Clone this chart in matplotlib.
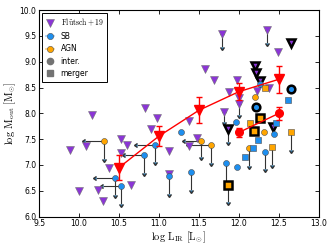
import matplotlib
matplotlib.use("Agg")
import matplotlib.pyplot as plt
from matplotlib.lines import Line2D
import numpy as np

plt.rcParams['mathtext.fontset'] = 'cm'
plt.rcParams['font.family'] = ['DejaVu Sans']

PURPLE = '#8B35D6'
BLUE = '#1E8FEF'
ORANGE = '#FFA500'

# Fluetsch+19 triangles
fl_x = [9.88, 10.09, 10.00, 10.24, 10.30, 10.38, 10.53, 10.60, 10.52, 10.65, 10.90,
        10.16, 10.82, 10.98, 11.13, 11.12, 11.38, 11.37, 11.48, 11.58, 11.69, 11.98,
        11.88, 12.00, 12.23, 12.38, 12.49]
fl_y = [7.30, 7.37, 6.50, 6.52, 6.31, 6.94, 7.50, 7.39, 7.23, 6.62, 7.70,
        7.96, 8.10, 7.92, 7.27, 6.83, 7.85, 7.36, 7.52, 8.86, 8.65, 8.65,
        8.42, 8.29, 8.44, 8.50, 9.18]
# Fluetsch+19 upper limits
flul_x = [11.79, 12.35, 11.81, 12.00]
flul_y = [9.53, 9.61, 8.03, 8.18]
flul_d = [0.24, 0.25, 0.20, 0.22]
# Fluetsch+19 with thick black edge
flb_x = [11.87, 12.20, 12.22, 12.27, 12.65, 12.43]
flb_y = [7.69, 8.92, 8.79, 8.63, 9.36, 7.74]
flb_d = [0.25, 0, 0, 0, 0, 0]

# binned medians
bin_x = [10.5, 11.0, 11.5, 12.0, 12.5]
bin_y = [6.95, 7.56, 8.06, 8.42, 8.66]
bin_e = [0.24, 0.19, 0.25, 0.17, 0.26]
bin2_x = [12.0, 12.5]
bin2_y = [7.63, 8.00]
bin2_e = [0.08, 0.12]

# SB circles
sb_x = [10.95, 10.81, 10.45, 10.53, 11.28, 11.12, 11.40, 11.84, 11.98, 11.97, 12.33, 12.44, 12.27]
sb_y = [7.39, 7.20, 6.75, 6.60, 7.63, 6.78, 6.86, 7.04, 6.96, 7.84, 7.26, 7.60, 8.57]
sb_dx = [0.22, 0.24, 0.24, 0.23, 0, 0, 0, 0, 0, 0, 0, 0, 0]
sb_dy = [0.34, 0.36, 0.33, 0.35, 0, 0.34, 0.34, 0.35, 0, 0, 0.33, 0, 0]
# SB interacting (thick edge)
sbi_x = [12.21, 12.65]
sbi_y = [8.13, 8.47]

# AGN circles
agn_x = [10.31, 11.53, 11.65, 12.13, 12.31, 12.20]
agn_y = [7.46, 7.47, 7.38, 7.33, 7.63, 8.32]
agn_dx = [0.24, 0.21, 0.27, 0, 0, 0]
agn_dy = [0.34, 0.32, 0.34, 0.34, 0, 0]

# squares
sqo_x = [12.14, 12.33, 12.42, 12.65]
sqo_y = [7.82, 8.50, 7.34, 7.63]
sqo_dy = [0, 0, 0.34, 0.34]
sqom_x = [12.27, 12.19, 11.87]
sqom_y = [7.92, 7.66, 6.62]
sqom_dy = [0, 0, 0.34]
sqb_x = [12.08, 12.18, 12.24, 12.46, 12.62]
sqb_y = [7.15, 7.33, 7.49, 7.81, 8.25]

fig = plt.figure(figsize=(3.32, 2.47), dpi=100)
ax = fig.add_axes([0.118, 0.123, 0.842, 0.836])

def limits(xs, ys, dxs, dys, z=2):
    for x, y, dx, dy in zip(xs, ys, dxs, dys):
        if dx > 0:
            ax.errorbar([x], [y], xerr=[dx], xuplims=True, fmt='none', ecolor='0.2',
                        elinewidth=0.8, capsize=1.6, zorder=z)
        if dy > 0:
            ax.errorbar([x], [y], yerr=[dy], uplims=True, fmt='none', ecolor='0.2',
                        elinewidth=0.8, capsize=1.6, zorder=z)

limits(flul_x, flul_y, [0]*4, flul_d)
limits(flb_x, flb_y, [0]*6, flb_d)
limits(sb_x, sb_y, sb_dx, sb_dy)
limits(agn_x, agn_y, agn_dx, agn_dy)
limits(sqo_x, sqo_y, [0]*4, sqo_dy)
limits(sqom_x, sqom_y, [0]*3, sqom_dy)

ax.plot(fl_x, fl_y, 'v', ms=5.6, mfc=PURPLE, mec='0.45', mew=0.4, ls='none', zorder=3)
ax.plot(flul_x, flul_y, 'v', ms=5.6, mfc=PURPLE, mec='0.45', mew=0.4, ls='none', zorder=3)
ax.plot(flb_x, flb_y, 'v', ms=6.0, mfc=PURPLE, mec='k', mew=1.8, ls='none', zorder=3)

ax.errorbar(bin_x, bin_y, yerr=bin_e, fmt='-v', color='red', ms=7, mec='red',
            elinewidth=1.0, lw=1.0, capsize=2, zorder=5)
ax.errorbar(bin2_x, bin2_y, yerr=bin2_e, fmt='-o', color='red', ms=5.5, mec='red',
            elinewidth=1.0, lw=1.0, capsize=2, zorder=5)

ax.plot(sb_x, sb_y, 'o', ms=4.3, mfc=BLUE, mec='0.3', mew=0.4, ls='none', zorder=4)
ax.plot(sbi_x, sbi_y, 'o', ms=5.5, mfc=BLUE, mec='k', mew=1.8, ls='none', zorder=4)
ax.plot(agn_x, agn_y, 'o', ms=4.3, mfc=ORANGE, mec='0.3', mew=0.4, ls='none', zorder=4)
ax.plot(sqo_x, sqo_y, 's', ms=4.6, mfc=ORANGE, mec='0.3', mew=0.4, ls='none', zorder=4)
ax.plot(sqom_x, sqom_y, 's', ms=5.5, mfc=ORANGE, mec='k', mew=1.8, ls='none', zorder=4)
ax.plot(sqb_x, sqb_y, 's', ms=4.6, mfc=BLUE, mec='0.3', mew=0.4, ls='none', zorder=4)

ax.set_xlim(9.5, 13.0)
ax.set_ylim(6.0, 10.0)
ax.set_xticks(np.arange(9.5, 13.01, 0.5))
ax.set_yticks(np.arange(6.0, 10.01, 0.5))
ax.set_xticklabels(['%.1f' % v for v in np.arange(9.5, 13.01, 0.5)])
ax.set_yticklabels(['%.1f' % v for v in np.arange(6.0, 10.01, 0.5)])
ax.tick_params(direction='in', top=True, right=True, labelsize=5.5, length=3, width=0.6, pad=2)
for s in ax.spines.values():
    s.set_linewidth(0.8)
ax.set_xlabel(r'$\rm \log\,L_{IR}\ [L_{\odot}]$', fontsize=7.5, labelpad=1)
ax.set_ylabel(r'$\rm \log\,M_{out}\ [M_{\odot}]$', fontsize=7.5, labelpad=1)

handles = [
    Line2D([], [], ls='none', marker='v', ms=6, mfc=PURPLE, mec='0.45', mew=0.4),
    Line2D([], [], ls='-', color='#9ecbf5', lw=1.2, marker='o', ms=4.5, mfc=BLUE, mec='0.3', mew=0.4),
    Line2D([], [], ls='-', color='#f7cc80', lw=1.2, marker='o', ms=4.5, mfc=ORANGE, mec='0.3', mew=0.4),
    Line2D([], [], ls='none', marker='o', ms=4.5, mfc='0.45', mec='0.45'),
    Line2D([], [], ls='none', marker='s', ms=4.5, mfc='0.45', mec='0.45'),
]
labels = [r'$\rm Fl\ddot{u}tsch+19$', 'SB', 'AGN', 'inter.', 'merger']
leg = ax.legend(handles, labels, loc='upper left', fontsize=5.5, handlelength=1.0,
                fancybox=False, edgecolor='k', framealpha=1, borderpad=0.5,
                labelspacing=0.45, handletextpad=0.9, borderaxespad=0.4)
leg.get_frame().set_linewidth(0.7)

fig.savefig('out.png', dpi=100)
